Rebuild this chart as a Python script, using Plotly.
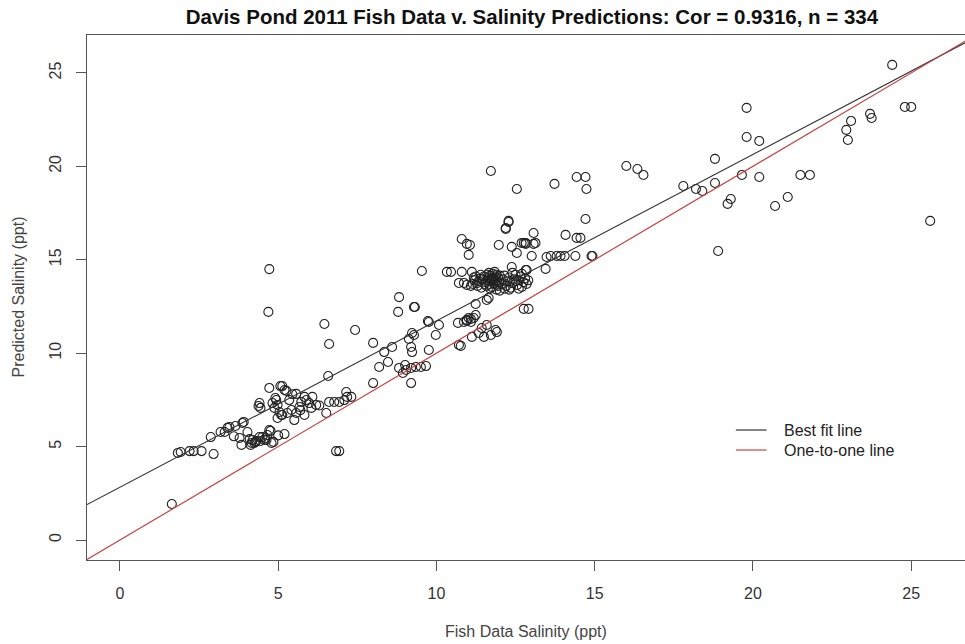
import plotly.graph_objects as go

# Observed fish data salinity (ppt)
fish_x = [
    1.64, 1.83, 1.92, 2.20, 2.33, 2.58, 2.96,
    2.87, 3.18, 3.31, 3.40, 3.46, 3.65, 3.87, 3.91, 4.03, 3.78, 3.84,
    4.13, 4.16, 4.19, 4.25, 4.28, 4.31, 4.41, 4.44, 4.50, 4.57, 4.63, 4.66, 4.72, 4.76, 4.79, 5.20,
    4.72, 5.07, 5.20, 4.41, 4.38, 4.44, 4.82, 4.91, 4.98, 5.04, 5.13, 4.98,
    5.13, 5.26, 5.57, 4.94, 4.88, 5.35, 5.42, 5.67, 5.73, 5.83, 5.89, 5.98, 6.05, 6.08, 6.20,
    5.10, 5.29, 5.57, 5.83, 5.51, 6.52,
    6.61, 6.77, 6.93, 7.09, 7.15, 7.18, 7.31, 6.58,
    4.72, 4.69, 6.46, 7.43, 6.61, 8.00, 8.35, 8.60, 8.79, 8.82, 9.32, 9.29, 9.29, 9.13, 9.20, 9.23, 9.73,
    8.47, 8.19, 8.00, 8.82, 9.01, 9.20, 9.35, 9.51, 9.67, 9.20, 8.94, 9.04,
    6.83, 6.93,
    9.76, 10.08, 9.98, 9.23, 9.76, 10.71, 10.77,
    10.68, 10.87, 10.96, 11.02, 11.09, 11.18, 11.24, 11.09, 10.96,
    11.12, 11.34, 11.43, 11.59, 11.50, 11.72, 11.91, 11.87,
    11.24, 11.59, 11.65,
    12.19, 12.28, 13.07, 10.80, 10.96, 11.06, 11.02, 11.97, 12.38, 12.54, 12.76, 12.82, 12.82, 13.07, 13.01, 13.48,
    9.54, 10.33, 10.46, 10.80, 11.12,
    10.71, 10.87, 10.96, 11.09,
    12.38, 12.82, 13.45, 12.76, 12.91,
    11.45, 11.50, 11.55, 11.60, 11.62, 11.65, 11.68, 11.70, 11.72, 11.75, 11.78, 11.80, 11.82, 11.85, 11.88,
    11.90, 11.92, 11.95, 11.98, 12.00, 11.58, 11.66, 11.74, 11.84, 11.94, 11.52, 11.70, 11.80, 11.76, 11.86,
    11.15, 11.20, 11.25, 11.30, 11.35, 11.40, 11.42, 11.28, 11.38, 11.18,
    12.05, 12.10, 12.15, 12.20, 12.25, 12.30, 12.35, 12.40, 12.45, 12.50, 12.55, 12.60, 12.65, 12.70, 12.75,
    12.80, 12.85, 12.90, 12.40, 12.30, 12.60, 12.15, 12.50, 12.70,
    11.90, 12.00, 11.70,
    11.72, 12.54, 13.73, 14.43, 14.71, 14.74, 16.00, 16.35, 16.54,
    12.28, 12.19, 14.71, 14.08, 14.43, 14.55, 12.69, 13.13,
    13.61, 13.80, 13.92, 14.05, 14.39, 14.90, 14.93, 12.85,
    24.40, 19.80, 19.80, 20.20, 18.80, 17.80, 18.20, 18.40, 18.80, 19.65, 20.20, 19.30, 19.20,
    20.70, 21.10, 21.50, 21.80, 22.95, 23.00, 23.10, 23.70, 23.75, 24.80, 25.00, 25.60, 18.90,
    4.60, 4.85, 5.00, 5.45, 5.70, 6.30, 3.60, 4.10,
]

# Predicted salinity (ppt)
pred_y = [
    1.93, 4.66, 4.71, 4.76, 4.76, 4.76, 4.60,
    5.51, 5.78, 5.78, 6.00, 6.05, 6.10, 6.26, 6.32, 5.78, 5.46, 5.09,
    5.09, 5.19, 5.35, 5.19, 5.25, 5.30, 5.51, 5.30, 5.51, 5.35, 5.35, 5.62, 5.89, 5.84, 5.19, 5.67,
    8.14, 8.24, 8.03, 7.33, 7.17, 7.07, 7.33, 7.60, 7.23, 6.85, 6.69, 6.53,
    8.24, 7.98, 7.82, 7.49, 7.07, 7.49, 6.96, 7.12, 7.39, 7.66, 7.49, 7.33, 7.07, 7.66, 7.23,
    6.69, 6.80, 6.80, 6.69, 6.42, 6.80,
    7.39, 7.39, 7.39, 7.49, 7.92, 7.66, 7.66, 8.78,
    14.50, 12.21, 11.56, 11.24, 10.49, 10.55, 10.06, 10.33, 12.21, 13.00, 12.47, 12.47, 10.97, 10.76, 10.33, 10.06, 11.72,
    9.53, 9.26, 8.40, 9.21, 9.37, 9.21, 9.26, 9.26, 9.31, 8.40, 8.94, 9.10,
    4.76, 4.76,
    11.67, 11.51, 10.97, 11.08, 10.17, 10.44, 10.39,
    11.62, 11.67, 11.78, 11.88, 11.67, 11.88, 12.04, 11.83, 11.72,
    10.87, 11.08, 11.35, 11.51, 10.87, 10.97, 11.13, 11.24,
    12.63, 12.85, 12.96,
    16.70, 17.02, 16.43, 16.11, 15.85, 15.79, 15.26, 15.79, 15.69, 15.36, 15.90, 15.90, 15.85, 15.85, 15.20, 15.15,
    14.40, 14.35, 14.35, 14.35, 14.35,
    13.76, 13.76, 13.65, 13.60,
    14.61, 14.45, 14.51, 12.37, 12.37,
    13.95, 14.10, 13.80, 14.20, 13.90, 14.05, 13.70, 14.15, 13.85, 14.00, 14.25, 13.75, 13.95, 14.10, 13.65,
    14.20, 13.90, 14.05, 13.80, 14.15, 13.60, 14.30, 13.55, 14.35, 13.60, 13.70, 13.95, 14.05, 13.90, 13.85,
    13.70, 13.90, 14.10, 13.60, 13.85, 14.20, 13.50, 13.75, 14.00, 14.05,
    13.70, 13.95, 14.15, 13.60, 13.85, 14.05, 13.50, 13.75, 13.95, 14.20, 13.65, 13.90, 14.10, 13.55, 13.80,
    14.00, 13.70, 13.90, 14.30, 13.40, 13.45, 13.45, 13.85, 14.25,
    13.40, 13.35, 13.45,
    19.75, 18.79, 19.06, 19.43, 19.43, 18.79, 20.02, 19.86, 19.54,
    17.08, 16.65, 17.18, 16.33, 16.17, 16.17, 15.90, 15.90,
    15.20, 15.20, 15.20, 15.20, 15.20, 15.20, 15.20, 14.45,
    25.43, 23.13, 21.57, 21.36, 20.40, 18.95, 18.79, 18.68, 19.11, 19.54, 19.43, 18.25, 17.99,
    17.88, 18.36, 19.54, 19.54, 21.95, 21.41, 22.43, 22.81, 22.59, 23.18, 23.18, 17.08, 15.47,
    5.45, 5.25, 5.60, 7.80, 6.95, 7.20, 5.55, 5.40,
]

x_ticks = [0, 5, 10, 15, 20, 25]
y_ticks = [0, 5, 10, 15, 20, 25]
x_range = [-1.04, 26.70]
y_range = [-1.07, 27.03]

fit_intercept = 2.82
fit_slope = 0.891

title_text = "Davis Pond 2011 Fish Data v. Salinity Predictions: Cor = 0.9316, n = 334"
legend_names = ["Best fit line", "One-to-one line"]
legend_colors = ["#333333", "#c5453f"]

FONT = "Liberation Sans, Arial, Helvetica, sans-serif"

fig = go.Figure()

fig.add_trace(go.Scatter(
    x=fish_x, y=pred_y, mode="markers", showlegend=False,
    marker=dict(symbol="circle-open", size=9, color="#222222", line=dict(width=1.1, color="#222222")),
))

fig.add_trace(go.Scatter(
    x=x_range, y=[fit_intercept + fit_slope * v for v in x_range], mode="lines",
    name=legend_names[0], showlegend=False, line=dict(color=legend_colors[0], width=1.1),
))
fig.add_trace(go.Scatter(
    x=x_range, y=list(x_range), mode="lines",
    name=legend_names[1], showlegend=False, line=dict(color=legend_colors[1], width=1.2),
))

axis_common = dict(
    showgrid=False, zeroline=False, showline=True, mirror=True,
    linecolor="#555555", linewidth=1.2, ticks="outside", ticklen=10,
    tickcolor="#555555", tickwidth=1,
    tickfont=dict(family=FONT, size=16, color="#333333"),
)

# manual legend (R-style, no box)
shapes = []
annotations = []
leg_y = [0.2476, 0.2095]
for name, col, yy in zip(legend_names, legend_colors, leg_y):
    shapes.append(dict(type="line", xref="paper", yref="paper", x0=0.739, x1=0.774, y0=yy, y1=yy,
                       line=dict(color=col, width=1.2)))
    annotations.append(dict(text=name, xref="paper", yref="paper", x=0.7916, y=yy,
                            xanchor="left", yanchor="middle", showarrow=False,
                            font=dict(family=FONT, size=16, color="#222222")))

annotations += [
    dict(text="Fish Data Salinity (ppt)", xref="paper", yref="paper", x=0.5, y=0, yshift=-71,
         xanchor="center", yanchor="middle", showarrow=False,
         font=dict(family=FONT, size=16, color="#444444")),
    dict(text="Predicted Salinity (ppt)", xref="paper", yref="paper", x=0, y=0.5, xshift=-69,
         xanchor="center", yanchor="middle", textangle=-90, showarrow=False,
         font=dict(family=FONT, size=16, color="#444444")),
]

fig.update_layout(
    width=965, height=644,
    margin=dict(l=87, r=0, t=35, b=84),
    paper_bgcolor="white", plot_bgcolor="white",
    title=dict(text="<b>" + title_text + "</b>", x=0.5513, xanchor="center", y=0.9736, yanchor="middle",
               font=dict(family=FONT, size=20.5, color="#111111")),
    xaxis=dict(range=x_range, tickvals=x_ticks, ticklabelstandoff=9, **axis_common),
    yaxis=dict(range=y_range, tickvals=y_ticks, tickangle=-90, ticklabelstandoff=9, **axis_common),
    showlegend=False,
    shapes=shapes,
    annotations=annotations,
)

fig.write_html(
    "out.html",
    config={"displayModeBar": False},
    post_script="document.body.style.margin='0px';document.body.style.overflow='hidden';",
)
